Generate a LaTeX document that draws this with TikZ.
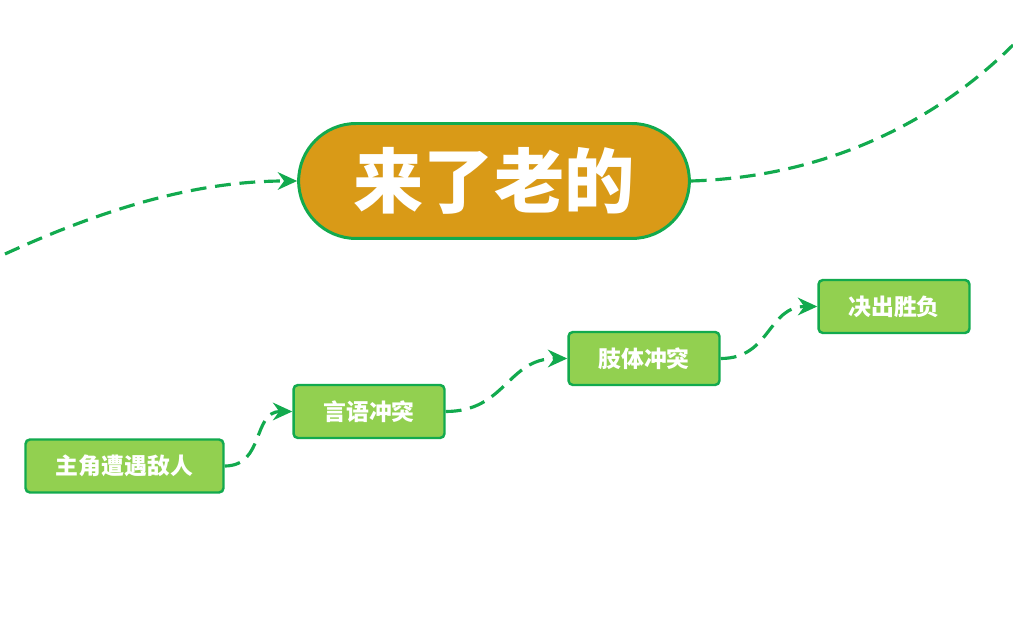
\documentclass[tikz,border=0pt]{standalone}
\usepackage{fontspec}
\newfontfamily\cjk{Noto Sans CJK SC}
\usetikzlibrary{shapes.misc,arrows.meta}
\definecolor{linegreen}{HTML}{12AA4E}
\definecolor{boxgreen}{HTML}{92D050}
\definecolor{gold}{HTML}{D99A17}
\begin{document}
\begin{tikzpicture}[x=0.02cm,y=0.02cm,
    titlebox/.style={rounded rectangle,draw=linegreen,fill=gold,line width=1.7pt,
      minimum width=8.05cm,minimum height=2.3cm,text=white,
      font=\cjk\bfseries\fontsize{40}{44}\selectfont},
    stepbox/.style={rectangle,rounded corners=2.5pt,draw=linegreen,fill=boxgreen,line width=1.4pt,
      minimum height=1.06cm,text=white,font=\cjk\bfseries\fontsize{13}{15}\selectfont},
    link/.style={draw=linegreen,line width=1.8pt,dash pattern=on 9pt off 5pt},
    tip/.style={-{Stealth[length=11pt,width=10pt]}}]
  \useasboundingbox (0,0) rectangle (1013,638);
  % title
  \node[titlebox] (title) at (494,457) {来了老的};
  \coordinate (lin) at (5,384);
  \coordinate (lout) at (1013,593);
  \draw[link,tip] (lin) .. controls (110,432) and (200,457) .. (title.west);
  \draw[link] (title.east) .. controls (830,461) and (940,520) .. (lout);
  % steps
  \node[stepbox,minimum width=3.96cm] (meet) at (124.5,172) {主角遭遇敌人};
  \node[stepbox,minimum width=3.02cm] (talk) at (369,226.5) {言语冲突};
  \node[stepbox,minimum width=3.02cm] (fight) at (644,279.5) {肢体冲突};
  \node[stepbox,minimum width=3.02cm] (end) at (894,331.5) {决出胜负};
  \draw[link,tip] (meet.east) .. controls +(40,0) and +(-40,0) .. (talk.west);
  \draw[link,tip] (talk.east) .. controls +(60,0) and +(-60,0) .. (fight.west);
  \draw[link,tip] (fight.east) .. controls +(50,0) and +(-50,0) .. (end.west);
\end{tikzpicture}
\end{document}
